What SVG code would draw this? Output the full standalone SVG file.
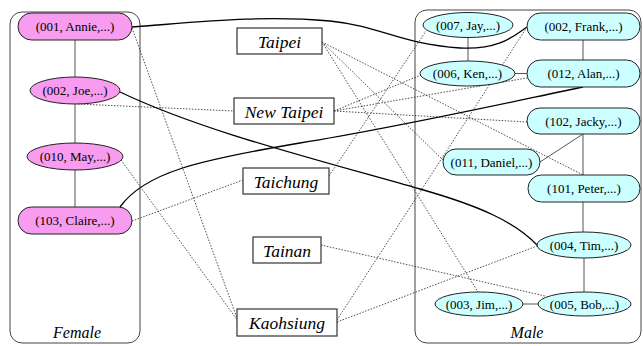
<svg xmlns="http://www.w3.org/2000/svg" width="643" height="346" viewBox="0 0 643 346">
  <style>
    .cluster { fill: none; stroke: #444; stroke-width: 1; }
    .f { fill: #f79cef; stroke: #222; stroke-width: 1; }
    .m { fill: #ccffff; stroke: #222; stroke-width: 1; }
    .city { fill: #fff; stroke: #333; stroke-width: 1.2; }
    .link { fill: none; stroke: #555; stroke-width: 1; }
    .tie { fill: none; stroke: #000; stroke-width: 1.3; }
    .dot { fill: none; stroke: #222; stroke-width: 0.8; stroke-dasharray: 1.5 1.5; }
  </style>

  <!-- clusters -->
  <g id="cluster-female">
    <rect class="cluster" x="10" y="12" width="130" height="331" rx="12"/>
    <text x="77" y="338" text-anchor="middle" style="font-family:'Liberation Serif', serif; font-size:16px; font-style:italic">Female</text>
  </g>
  <g id="cluster-male">
    <rect class="cluster" x="415" y="10" width="226" height="333" rx="12"/>
    <text x="527" y="338" text-anchor="middle" style="font-family:'Liberation Serif', serif; font-size:16px; font-style:italic">Male</text>
  </g>

  <!-- connectors -->
  <g id="connectors">
    <!-- within female -->
    <line class="link" x1="75" y1="40" x2="75" y2="77"/>
    <line class="link" x1="75" y1="104" x2="75" y2="143"/>
    <line class="link" x1="75" y1="170" x2="75" y2="207"/>
    <!-- within male -->
    <line class="link" x1="468" y1="38" x2="468" y2="61"/>
    <line class="link" x1="583" y1="40" x2="583" y2="60"/>
    <line class="link" x1="515" y1="73.5" x2="527" y2="73.5"/>
    <line class="link" x1="583" y1="134" x2="583" y2="175"/>
    <line class="link" x1="583" y1="134" x2="540" y2="162"/>
    <line class="link" x1="583" y1="202" x2="583" y2="232"/>
    <line class="link" x1="584" y1="258" x2="584" y2="292"/>
    <line class="link" x1="523" y1="304" x2="538" y2="304"/>
    <!-- cross-cluster ties -->
    <path class="tie" d="M132,27 C200,22 260,15 330,21 C380,26 400,44 460,48 C500,50 515,35 527,27"/>
    <path class="tie" d="M120,92 C200,130 300,155 420,189 C480,206 515,222 537,245"/>
    <path class="tie" d="M120,207 C145,172 200,160 300,143 C400,127 520,100 583,87"/>
    <!-- city links -->
    <line class="dot" x1="132" y1="28" x2="238" y2="321"/>
    <line class="dot" x1="78" y1="104" x2="234" y2="111"/>
    <line class="dot" x1="121" y1="160" x2="238" y2="321"/>
    <line class="dot" x1="132" y1="221" x2="243" y2="180"/>
    <line class="dot" x1="322" y1="42" x2="583" y2="175"/>
    <line class="dot" x1="322" y1="42" x2="444" y2="161"/>
    <line class="dot" x1="322" y1="42" x2="478" y2="292"/>
    <line class="dot" x1="334" y1="111" x2="421" y2="75"/>
    <line class="dot" x1="334" y1="111" x2="527" y2="78"/>
    <line class="dot" x1="334" y1="111" x2="527" y2="122"/>
    <line class="dot" x1="329" y1="176" x2="426" y2="31"/>
    <line class="dot" x1="321" y1="245" x2="545" y2="296"/>
    <line class="dot" x1="337" y1="320" x2="527" y2="27"/>
    <line class="dot" x1="337" y1="322" x2="537" y2="246"/>
  </g>

  <!-- female nodes -->
  <g id="n-annie"><rect class="f" x="18" y="13" width="114" height="27" rx="13.5"/><text x="75" y="31" text-anchor="middle" style="font-family:'Liberation Serif', serif; font-size:13px">(001, Annie,...)</text></g>
  <g id="n-joe"><ellipse class="f" cx="75" cy="90.5" rx="45" ry="13.5"/><text x="75" y="95" text-anchor="middle" style="font-family:'Liberation Serif', serif; font-size:13px">(002, Joe,...)</text></g>
  <g id="n-may"><ellipse class="f" cx="75" cy="156.5" rx="48" ry="13.5"/><text x="75" y="161" text-anchor="middle" style="font-family:'Liberation Serif', serif; font-size:13px">(010, May,...)</text></g>
  <g id="n-claire"><rect class="f" x="18" y="207" width="114" height="27" rx="13.5"/><text x="75" y="225" text-anchor="middle" style="font-family:'Liberation Serif', serif; font-size:13px">(103, Claire,...)</text></g>

  <!-- cities -->
  <g id="c-taipei"><rect class="city" x="237" y="28" width="85" height="26"/><text x="279.5" y="47.5" text-anchor="middle" style="font-family:'Liberation Serif', serif; font-size:17.5px; font-style:italic">Taipei</text></g>
  <g id="c-newtaipei"><rect class="city" x="234" y="98" width="100" height="26"/><text x="284" y="117.5" text-anchor="middle" style="font-family:'Liberation Serif', serif; font-size:17.5px; font-style:italic">New Taipei</text></g>
  <g id="c-taichung"><rect class="city" x="243" y="168" width="86" height="26"/><text x="286" y="187.5" text-anchor="middle" style="font-family:'Liberation Serif', serif; font-size:17.5px; font-style:italic">Taichung</text></g>
  <g id="c-tainan"><rect class="city" x="253" y="237" width="68" height="26"/><text x="287" y="256.5" text-anchor="middle" style="font-family:'Liberation Serif', serif; font-size:17.5px; font-style:italic">Tainan</text></g>
  <g id="c-kaohsiung"><rect class="city" x="237" y="309" width="100" height="27"/><text x="287" y="328.5" text-anchor="middle" style="font-family:'Liberation Serif', serif; font-size:17.5px; font-style:italic">Kaohsiung</text></g>

  <!-- male nodes -->
  <g id="n-jay"><ellipse class="m" cx="468" cy="25" rx="45" ry="12.5"/><text x="468" y="29.5" text-anchor="middle" style="font-family:'Liberation Serif', serif; font-size:13px">(007, Jay,...)</text></g>
  <g id="n-frank"><rect class="m" x="527" y="13" width="113" height="27" rx="13.5"/><text x="583.5" y="31" text-anchor="middle" style="font-family:'Liberation Serif', serif; font-size:13px">(002, Frank,...)</text></g>
  <g id="n-ken"><ellipse class="m" cx="467.5" cy="73.5" rx="47.5" ry="12.5"/><text x="467.5" y="78" text-anchor="middle" style="font-family:'Liberation Serif', serif; font-size:13px">(006, Ken,...)</text></g>
  <g id="n-alan"><rect class="m" x="527" y="60" width="113" height="27" rx="13.5"/><text x="583.5" y="78" text-anchor="middle" style="font-family:'Liberation Serif', serif; font-size:13px">(012, Alan,...)</text></g>
  <g id="n-jacky"><rect class="m" x="527" y="108" width="113" height="26" rx="13"/><text x="583.5" y="125.5" text-anchor="middle" style="font-family:'Liberation Serif', serif; font-size:13px">(102, Jacky,...)</text></g>
  <g id="n-daniel"><rect class="m" x="443" y="149" width="97" height="26" rx="13"/><text x="491.5" y="166.5" text-anchor="middle" style="font-family:'Liberation Serif', serif; font-size:13px">(011, Daniel,...)</text></g>
  <g id="n-peter"><rect class="m" x="528" y="175" width="112" height="27" rx="13.5"/><text x="584" y="193" text-anchor="middle" style="font-family:'Liberation Serif', serif; font-size:13px">(101, Peter,...)</text></g>
  <g id="n-tim"><ellipse class="m" cx="584" cy="245" rx="47" ry="13"/><text x="584" y="249.5" text-anchor="middle" style="font-family:'Liberation Serif', serif; font-size:13px">(004, Tim,...)</text></g>
  <g id="n-jim"><ellipse class="m" cx="479" cy="304" rx="44" ry="12"/><text x="479" y="308.5" text-anchor="middle" style="font-family:'Liberation Serif', serif; font-size:13px">(003, Jim,...)</text></g>
  <g id="n-bob"><ellipse class="m" cx="584.5" cy="304" rx="46.5" ry="12"/><text x="584.5" y="308.5" text-anchor="middle" style="font-family:'Liberation Serif', serif; font-size:13px">(005, Bob,...)</text></g>
</svg>
